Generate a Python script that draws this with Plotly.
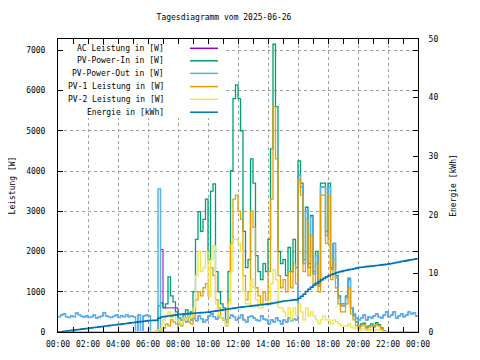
import pandas as pd
import plotly.graph_objects as go

# ---------------- data (10-minute samples, 00:00 .. 24:00) ----------------
times = pd.date_range("2025-06-26 00:00", periods=145, freq="10min")

ac_w = [
    380, 420, 450, 380, 360, 400,
    380, 470, 430, 390, 370, 400,
    360, 380, 420, 350, 370, 390,
    480, 400, 380, 360, 390, 420,
    360, 400, 380, 430, 380, 400,
    380, 0, 420, 0, 400, 420,
    400, 0, 0, 0, 0, 2050,
    600, 600, 600, 600, 600, 600,
    350, 300, 420, 250, 380, 300,
    350, 280, 400, 330, 250, 300,
    400, 450, 380, 320, 400, 350,
    300, 250, 350, 420, 380, 300,
    350, 420, 300, 250, 380, 400,
    350, 300, 280, 400, 320, 300,
    200, 300, 250, 350, 280, 200,
    300, 250, 350, 280, 320, 300,
    3900, 3600, 1700, 3000, 1600, 2850,
    1450, 1900, 1150, 3600, 3600, 2400,
    3600, 1550, 2200, 1350, 850, 650,
    650, 850, 1340, 600, 450, 350,
    300, 350, 420, 300, 380, 350,
    400, 450, 380, 350, 420, 500,
    380, 420, 500, 350, 400, 450,
    380, 420, 500, 450, 480, 400,
    400,
]

pv_in_w = [
    0, 0, 0, 0, 0, 0,
    0, 0, 0, 0, 0, 0,
    0, 0, 0, 0, 0, 0,
    0, 0, 0, 0, 0, 0,
    0, 0, 0, 0, 0, 0,
    0, 0, 0, 0, 0, 0,
    0, 0, 0, 0, 650, 720,
    600, 700, 1370, 900, 750, 500,
    350, 300, 450, 550, 400, 500,
    1000, 2300, 2990, 2500, 2800, 3300,
    1800, 3500, 3680, 1500, 1000, 700,
    600, 300, 1500, 4000, 5800, 6140,
    5800, 5000, 2500, 1600, 1800, 4300,
    3700, 1900, 1500, 1300, 1700, 1500,
    2300, 4550, 7150, 5600, 2000, 1700,
    1800, 1400, 2100, 1500, 2300, 1600,
    4250, 3700, 1800, 3100, 1700, 2900,
    1500, 2000, 1200, 3700, 3700, 2500,
    3700, 1600, 2200, 1400, 900, 700,
    700, 900, 1300, 600, 400, 250,
    150, 200, 220, 120, 150, 200,
    150, 230, 180, 100, 30, 0,
    0, 0, 0, 0, 0, 0,
    0, 0, 0, 0, 0, 0,
    0,
]

pv_out_w = [
    380, 420, 450, 380, 360, 400,
    380, 470, 430, 390, 370, 400,
    360, 380, 420, 350, 370, 390,
    480, 400, 380, 360, 390, 420,
    360, 400, 380, 430, 380, 400,
    380, 0, 420, 0, 400, 420,
    400, 0, 0, 0, 3550, 0,
    0, 0, 0, 0, 0, 0,
    350, 300, 420, 250, 380, 300,
    350, 280, 400, 330, 250, 300,
    400, 450, 380, 320, 400, 350,
    300, 250, 350, 420, 380, 300,
    350, 420, 300, 250, 380, 400,
    350, 300, 280, 400, 320, 300,
    200, 300, 250, 350, 280, 200,
    300, 250, 350, 280, 320, 300,
    3900, 3600, 1700, 3000, 1600, 2850,
    1450, 1900, 1150, 3600, 3600, 2400,
    3600, 1550, 2200, 1350, 850, 650,
    650, 850, 1340, 600, 450, 350,
    300, 350, 420, 300, 380, 350,
    400, 450, 380, 350, 420, 500,
    380, 420, 500, 350, 400, 450,
    380, 420, 500, 450, 480, 400,
    400,
]

pv1_w = [
    0, 0, 0, 0, 0, 0,
    0, 0, 0, 0, 0, 0,
    0, 0, 0, 0, 0, 0,
    0, 0, 0, 0, 0, 0,
    0, 0, 0, 0, 0, 0,
    0, 0, 0, 0, 0, 0,
    0, 0, 0, 30, 50, 60,
    100, 200, 150, 300, 250, 200,
    200, 150, 300, 350, 250, 200,
    400, 800, 1000, 900, 1100, 1200,
    900, 1600, 1400, 800, 600, 350,
    300, 150, 800, 2200, 3300, 3400,
    3000, 2800, 1400, 800, 1000, 3000,
    2600, 1100, 900, 700, 1000, 800,
    1500, 3300, 5600, 4300, 1400, 1100,
    1300, 1000, 1500, 1100, 1700, 1200,
    3800, 3400, 1500, 2800, 1400, 2400,
    1200, 1700, 1000, 3400, 3400, 2200,
    3400, 1300, 1800, 1100, 700, 500,
    500, 700, 1100, 450, 300, 150,
    100, 150, 180, 80, 120, 150,
    120, 180, 150, 80, 20, 0,
    0, 0, 0, 0, 0, 0,
    0, 0, 0, 0, 0, 0,
    0,
]

pv2_w = [
    0, 0, 0, 0, 0, 0,
    0, 0, 0, 0, 0, 0,
    0, 0, 0, 0, 0, 0,
    0, 0, 0, 0, 0, 0,
    0, 0, 0, 0, 0, 0,
    0, 0, 0, 0, 0, 0,
    0, 0, 0, 20, 50, 80,
    300, 400, 500, 350, 450, 300,
    250, 200, 350, 300, 400, 350,
    600, 1400, 2000, 1500, 1600, 2000,
    900, 1800, 2140, 700, 400, 350,
    300, 150, 700, 1500, 2300, 2300,
    2200, 2000, 1000, 700, 700, 1300,
    1100, 800, 600, 600, 700, 700,
    800, 1200, 1550, 1300, 600, 600,
    500, 400, 600, 300, 600, 400,
    700, 500, 300, 600, 400, 500,
    400, 300, 200, 300, 400, 300,
    300, 200, 300, 250, 200, 150,
    150, 150, 200, 120, 100, 80,
    50, 60, 80, 40, 50, 60,
    40, 60, 50, 30, 10, 0,
    0, 0, 0, 0, 0, 0,
    0, 0, 0, 0, 0, 0,
    0,
]

energy_kwh = [
    0.00, 0.05, 0.11, 0.16, 0.22, 0.27,
    0.32, 0.38, 0.43, 0.49, 0.54, 0.60,
    0.65, 0.70, 0.76, 0.81, 0.87, 0.92,
    0.98, 1.03, 1.08, 1.14, 1.19, 1.25,
    1.30, 1.35, 1.41, 1.46, 1.52, 1.57,
    1.63, 1.68, 1.73, 1.79, 1.84, 1.90,
    1.95, 1.97, 1.99, 2.01, 2.35, 2.55,
    2.62, 2.68, 2.74, 2.80, 2.86, 2.92,
    3.00, 3.03, 3.07, 3.10, 3.13, 3.17,
    3.20, 3.23, 3.27, 3.30, 3.33, 3.36,
    3.40, 3.47, 3.53, 3.60, 3.67, 3.73,
    3.80, 3.87, 3.93, 4.00, 4.07, 4.13,
    4.20, 4.25, 4.30, 4.35, 4.40, 4.45,
    4.50, 4.55, 4.60, 4.65, 4.70, 4.75,
    4.80, 4.88, 4.96, 5.04, 5.12, 5.20,
    5.28, 5.33, 5.38, 5.43, 5.48, 5.53,
    5.75, 6.10, 6.45, 6.90, 7.30, 7.65,
    8.00, 8.30, 8.60, 8.90, 9.15, 9.40,
    9.60, 9.80, 9.95, 10.10, 10.25, 10.35,
    10.45, 10.55, 10.65, 10.72, 10.80, 10.90,
    11.00, 11.05, 11.10, 11.15, 11.20, 11.25,
    11.30, 11.35, 11.40, 11.45, 11.50, 11.55,
    11.62, 11.70, 11.78, 11.86, 11.94, 12.02,
    12.10, 12.18, 12.26, 12.34, 12.42, 12.50,
    12.55,
]

series_names = [
    "AC Leistung in [W]",
    "PV-Power-In in [W]",
    "PV-Power-Out in [W]",
    "PV-1 Leistung in [W]",
    "PV-2 Leistung in [W]",
    "Energie in [kWh]",
]
series_colors = ["#9400d3", "#009e73", "#56b4e9", "#e69f00", "#f0e442", "#0072b2"]
title_text = "Tagesdiagramm vom 2025-06-26"

# ---------------- figure ----------------
FONT = "DejaVu Sans Mono"
FS = 8
fig = go.Figure()
power_series = [ac_w, pv_in_w, pv_out_w, pv1_w, pv2_w]
power_widths = [1.0, 1.3, 1.5, 1.3, 1.3]
for vals, name, col, lw in zip(power_series, series_names[:5], series_colors[:5], power_widths):
    fig.add_trace(go.Scatter(x=times, y=vals, name=name, mode="lines",
                             line=dict(color=col, width=lw, shape="hv"),
                             showlegend=False))
fig.add_trace(go.Scatter(x=times, y=energy_kwh, name=series_names[5], mode="lines",
                         line=dict(color=series_colors[5], width=1.6, shape="hv"),
                         yaxis="y2", showlegend=False))

# The page body has an 8px margin, so the figure is 472x352 drawn at (8,8).
OFF = 8
FIG_W, FIG_H = 480 - OFF, 360 - OFF
# plot area in page pixels: x 58..418, y 39..332
L, R, T, B = 58, 418, 39, 332
W, H = R - L, B - T

def px_x(px):
    return (px - L) / W

def px_y(py):
    return (B - py) / H

# opaque key background (gnuplot-style key box without border),
# kept clear of the axis ticks on the left and top borders
fig.add_shape(type="rect", xref="paper", yref="paper", layer="above",
              x0=px_x(64), x1=px_x(223), y0=px_y(118), y1=px_y(45),
              line=dict(width=0), fillcolor="white")

# gnuplot-style key: right-aligned text with line sample on the right
key_rows = [48.3, 60.8, 73.4, 86.6, 99.3, 112.2]
for name, col, py in zip(series_names, series_colors, key_rows):
    fig.add_annotation(x=px_x(166), y=px_y(py), xref="paper", yref="paper",
                       text=name, showarrow=False, xanchor="right", yanchor="middle",
                       font=dict(family=FONT, size=FS, color="black"))
    fig.add_shape(type="line", xref="paper", yref="paper", layer="above",
                  x0=px_x(190), x1=px_x(218), y0=px_y(py), y1=px_y(py),
                  line=dict(color=col, width=1.5))

axis_common = dict(showline=True, linecolor="black", linewidth=1,
                   ticks="inside", tickcolor="black", automargin=False,
                   tickfont=dict(family=FONT, size=FS, color="black"),
                   zeroline=False)

GRID = dict(showgrid=True, gridcolor="#a0a0a0", griddash="3px,3px", gridwidth=1)

fig.update_layout(
    width=FIG_W, height=FIG_H,
    margin=dict(l=L - OFF, r=FIG_W - (R - OFF), t=T - OFF, b=FIG_H - (B - OFF), pad=0),
    paper_bgcolor="white", plot_bgcolor="white",
    title=dict(text=title_text, x=(224 - OFF) / FIG_W, xanchor="center",
               y=1 - (17 - OFF) / FIG_H, yanchor="middle",
               xref="container", yref="container",
               font=dict(family=FONT, size=FS, color="black")),
    xaxis=dict(axis_common, type="date",
               range=[times[0], times[-1]],
               dtick=2 * 3600 * 1000, tick0="2025-06-26 00:00",
               tickformat="%H:%M", ticklen=5, mirror="allticks",
               minor=dict(dtick=3600 * 1000, ticks="inside", ticklen=3,
                          tickcolor="black", showgrid=False),
               ticklabelstandoff=4, **GRID),
    yaxis=dict(axis_common, range=[0, 7280], dtick=1000, tick0=0, ticklen=5,
               mirror="ticks", ticklabelstandoff=10,
               title=dict(text="Leistung [W]", standoff=12,
                          font=dict(family=FONT, size=FS, color="black")),
               **GRID),
    yaxis2=dict(axis_common, overlaying="y", side="right", range=[0, 50],
                dtick=10, tick0=0, ticklen=5, showgrid=False,
                ticklabelstandoff=8,
                title=dict(text="Energie [kWh]", standoff=12,
                           font=dict(family=FONT, size=FS, color="black"))),
    showlegend=False,
)

fig.write_html("out.html")
